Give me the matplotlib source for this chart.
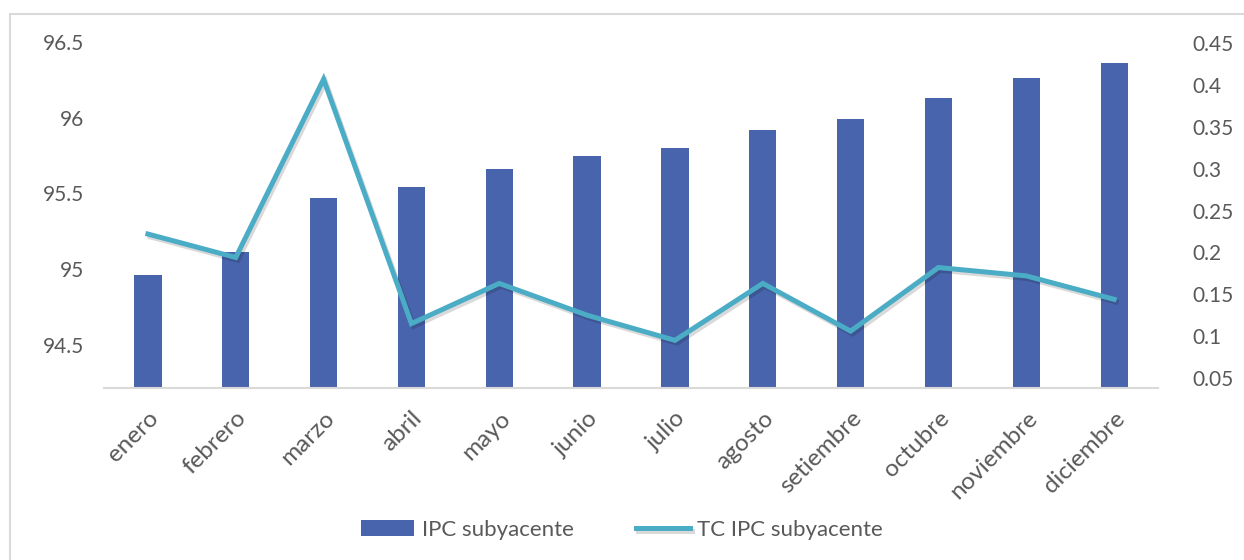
import matplotlib.pyplot as plt
import matplotlib.patheffects as pe
from matplotlib.patches import Rectangle

meses = ["enero", "febrero", "marzo", "abril", "mayo", "junio", "julio",
         "agosto", "setiembre", "octubre", "noviembre", "diciembre"]
ipc_subyacente = [94.96, 95.11, 95.47, 95.54, 95.66, 95.75, 95.80,
                  95.92, 95.99, 96.13, 96.26, 96.36]
tc_ipc_subyacente = [0.222, 0.194, 0.407, 0.115, 0.163, 0.125, 0.095,
                     0.163, 0.106, 0.182, 0.172, 0.144]

ticks_izq = [94.5, 95, 95.5, 96, 96.5]
ticks_der = [0.05, 0.1, 0.15, 0.2, 0.25, 0.3, 0.35, 0.4, 0.45]

COLOR_BARRA = "#4864AC"
COLOR_LINEA = "#4BACC6"
COLOR_TEXTO = "#595959"
COLOR_BORDE = "#D9D9D9"


def graficar():
    plt.rcParams['font.family'] = ['Lato', 'DejaVu Sans']
    fig = plt.figure(figsize=(12.44, 5.6), dpi=100)
    ax = fig.add_axes([0.0836, 0.3071, 0.8473, 0.6179])

    x = list(range(len(meses)))
    barras = ax.bar(x, ipc_subyacente, width=0.31, color=COLOR_BARRA,
                    label="IPC subyacente", zorder=2)
    ax.set_xlim(-0.5, len(meses) - 0.5)
    ax.set_ylim(94.215, 96.5)
    ax.set_yticks(ticks_izq)
    ax.set_yticklabels([f"{t:g}" for t in ticks_izq])
    ax.set_xticks(x)
    ax.set_xticklabels(meses, rotation=45, ha='right', rotation_mode='anchor')

    ax2 = ax.twinx()
    linea, = ax2.plot(x, tc_ipc_subyacente, color=COLOR_LINEA, linewidth=3.6,
                      solid_joinstyle='miter', label="TC IPC subyacente", zorder=3,
                      path_effects=[pe.SimpleLineShadow(offset=(1.5, -2), alpha=0.15),
                                    pe.Normal()])
    ax2.set_ylim(0.038, 0.4515)
    ax2.set_yticks(ticks_der)
    ax2.set_yticklabels([f"{t:g}" for t in ticks_der])

    for a in (ax, ax2):
        for lado in ("top", "left", "right", "bottom"):
            a.spines[lado].set_visible(False)
        a.tick_params(length=0, labelsize=15, colors=COLOR_TEXTO)
    ax.spines["bottom"].set_visible(True)
    ax.spines["bottom"].set_color(COLOR_BORDE)
    ax.spines["bottom"].set_linewidth(1.5)
    ax.tick_params(axis='y', pad=14)
    ax.tick_params(axis='x', pad=14, labelsize=17.5)
    ax2.tick_params(axis='y', pad=25)

    fig.patches.append(Rectangle((0.008, -0.1), 1.2, 1.075, transform=fig.transFigure,
                                 fill=False, edgecolor=COLOR_BORDE, linewidth=1.5))

    leg = fig.legend([barras, linea], ["IPC subyacente", "TC IPC subyacente"],
                     loc='center', bbox_to_anchor=(0.5, 0.054), ncol=2, frameon=False,
                     fontsize=16, handlelength=2.4, handletextpad=0.35,
                     columnspacing=2.8)
    for t in leg.get_texts():
        t.set_color(COLOR_TEXTO)

    plt.savefig("out.png", dpi=100)


if __name__ == "__main__":
    graficar()
